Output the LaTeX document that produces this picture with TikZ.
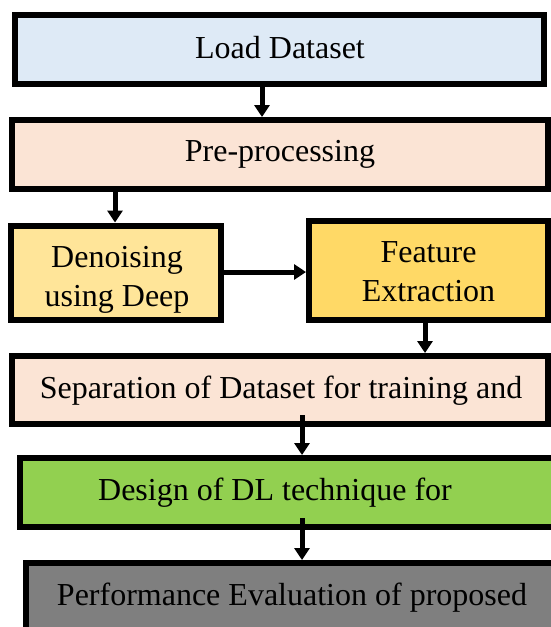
\documentclass[tikz,border=0pt]{standalone}
\usepackage{fontspec}
\setmainfont{Liberation Serif}
\usetikzlibrary{arrows.meta,calc}
\definecolor{cblue}{HTML}{DEEAF6}
\definecolor{cpink}{HTML}{FBE4D5}
\definecolor{cyel}{HTML}{FFE599}
\definecolor{cyeld}{HTML}{FFD966}
\definecolor{cgreen}{HTML}{92D050}
\definecolor{cgray}{HTML}{7F7F7F}
\tikzset{
  box/.style={draw=black, line width=6pt, inner sep=0pt, align=center,
    font=\fontsize{32}{39}\selectfont},
  txt/.style={inner sep=0pt, align=center, font=\fontsize{32}{39}\selectfont},
  arr/.style={line width=5pt, -{Triangle[width=15pt,length=12pt]}}
}
\begin{document}
\begin{tikzpicture}[x=1pt,y=-1pt]
\clip (0,0) rectangle (551,627);
\fill[white] (0,0) rectangle (551,627);
% boxes (outer edges given; border 6 wide)
\node[box, fill=cblue, minimum width=529pt, minimum height=69pt] (b1) at (279.5,49.5) {};
\node[txt] (t1) at (280,47.5) {Load Dataset};
\node[box, fill=cpink, minimum width=536pt, minimum height=69pt] (b2) at (280,154.5) {Pre-processing};
\node[box, fill=cyel, minimum width=210pt, minimum height=94pt] (b3) at (116,272.5) {};
\node[txt] (t3) at (117,280) {Denoising\\using Deep};
\node[box, fill=cyeld, minimum width=239pt, minimum height=99pt] (b4) at (428.5,270.5) {};
\node[txt] (t4) at (428.5,272) {Feature\\Extraction};
\node[box, fill=cpink, minimum width=536pt, minimum height=68pt] (b5) at (280,390) {};
\node[txt] (t5) at (281,391) {Separation of Dataset for training and};
\node[box, fill=cgreen, minimum width=537pt, minimum height=69pt] (b6) at (288.5,492.5) {};
\node[txt] (t6) at (275,493) {Design of DL technique for};
\node[box, fill=cgray, minimum width=531pt, minimum height=69pt] (b7) at (291.5,597.5) {};
\node[txt] (t7) at (292,598) {Performance Evaluation of proposed};
% connectors
\draw[arr] (b1.south -| 262,0) -- (b2.north -| 262,0);
\draw[arr] (b2.south -| 115,0) -- (b3.north -| 115,0);
\draw[arr] (b3.east |- 0,272) -- (b4.west |- 0,272);
\draw[arr] (b4.south -| 425,0) -- (b5.north -| 425,0);
\draw[arr] ([yshift=12pt]b5.south -| 302,0) -- (b6.north -| 302,0);
\draw[arr] ([yshift=12pt]b6.south -| 302,0) -- (b7.north -| 302,0);
\end{tikzpicture}
\end{document}
